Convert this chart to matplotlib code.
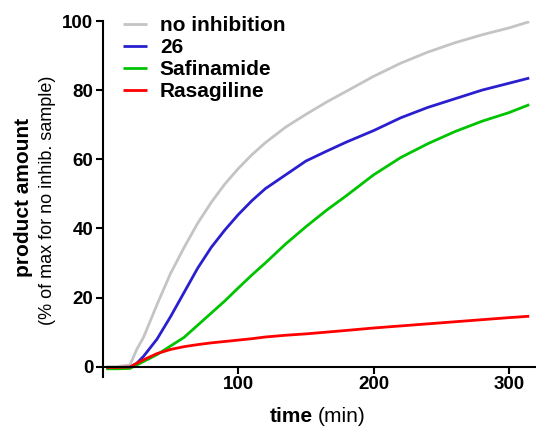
import matplotlib
matplotlib.use('Agg')
import matplotlib.pyplot as plt

plt.rcParams['font.family'] = ['Liberation Sans', 'DejaVu Sans']

# time points (min) and product amount (% of max for no-inhibitor sample)
time = [2.5, 10, 20, 25, 30, 40, 50, 60, 70, 80, 90, 100, 110, 120, 135, 150,
        165, 180, 200, 220, 240, 260, 280, 300, 315]
no_inhibition = [0, 0, 0.5, 5, 8.5, 18, 27, 34.5, 41.5, 47.5, 52.8, 57.3, 61.3,
                 64.8, 69.3, 73, 76.5, 79.7, 84, 87.8, 91, 93.7, 96, 98, 99.8]
cmpd_26 = [-0.3, -0.3, -0.2, 1, 3, 8, 14.5, 21.5, 28.5, 34.5, 39.5, 44, 48, 51.5,
           55.5, 59.5, 62.3, 65, 68.3, 72, 75, 77.5, 80, 82, 83.5]
safinamide = [-0.6, -0.6, -0.5, 0.5, 1.5, 3.5, 6, 8.5, 12, 15.5, 19, 22.8, 26.5,
              30, 35.5, 40.5, 45.2, 49.5, 55.5, 60.5, 64.5, 68, 71, 73.5, 75.8]
rasagiline = [-0.2, -0.2, -0.1, 1, 2, 3.8, 5, 5.8, 6.4, 6.9, 7.3, 7.7, 8.1, 8.6,
              9.1, 9.5, 10, 10.5, 11.2, 11.8, 12.4, 13, 13.6, 14.2, 14.6]

series = [
    ('no inhibition', no_inhibition, '#c4c4c4'),
    ('26', cmpd_26, '#2a1fcf'),
    ('Safinamide', safinamide, '#00c400'),
    ('Rasagiline', rasagiline, '#ff0000'),
]

fig = plt.figure(figsize=(5.36, 4.29), dpi=100)
ax = fig.add_axes([0.192, 0.121, 0.808, 0.830])

for label, values, color in series:
    ax.plot(time, values, color=color, linewidth=2.0, label=label,
            solid_capstyle='butt', solid_joinstyle='round')

ax.set_xlim(0, 320)
ax.set_ylim(-3, 100)
ax.set_xticks([100, 200, 300])
ax.set_yticks([0, 20, 40, 60, 80, 100])

for side in ('top', 'right'):
    ax.spines[side].set_visible(False)
ax.spines['bottom'].set_position(('data', 0))
for side in ('left', 'bottom'):
    ax.spines[side].set_linewidth(1.5)
ax.tick_params(width=1.5, length=5, direction='out', labelsize=13.5, pad=2)
for lbl in ax.get_xticklabels() + ax.get_yticklabels():
    lbl.set_fontweight('bold')

ax.legend(loc='upper left', bbox_to_anchor=(0.028, 1.038), frameon=False,
          prop={'weight': 'bold', 'size': 15}, handlelength=1.15,
          handletextpad=0.6, labelspacing=0.15, borderaxespad=0)

# axis titles with mixed weights
fig.text(0.043, 0.54, 'product amount', rotation=90, ha='center', va='center',
         fontsize=15, fontweight='bold')
fig.text(0.088, 0.534, '(% of max for no inhib. sample)', rotation=90,
         ha='center', va='center', fontsize=13)
fig.text(0.584, 0.03, 'time', ha='right', va='center', fontsize=15,
         fontweight='bold')
fig.text(0.592, 0.03, '(min)', ha='left', va='center', fontsize=15)

fig.savefig('out.png', dpi=100)
